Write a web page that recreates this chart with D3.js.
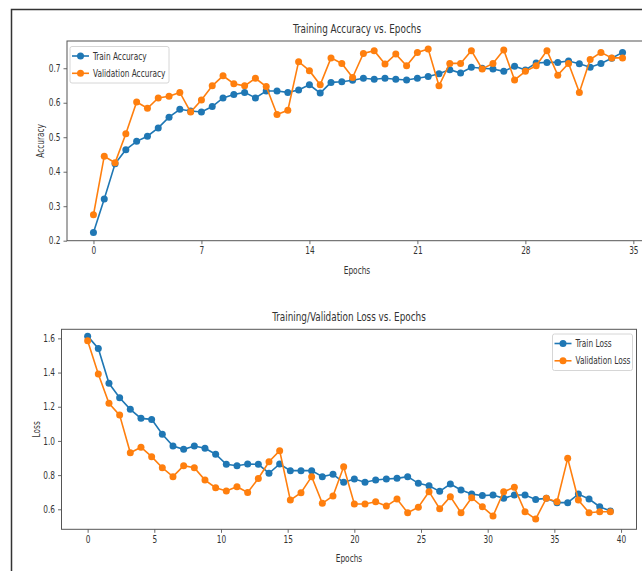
<!DOCTYPE html>
<html>
<head>
<meta charset="utf-8">
<script src="https://cdn.jsdelivr.net/npm/d3@7"></script>
<style>
  body { margin: 0; background: #fff; }
  svg text { font-family: "Liberation Sans Narrow", "DejaVu Sans Condensed", "Liberation Sans", sans-serif; fill: #333; }
</style>
</head>
<body>
<div id="chart"></div>
<script>
// data (50 points each)
var trainAcc = [0.224,0.321,0.423,0.464,0.488,0.503,0.527,0.558,0.581,0.576,
                0.573,0.589,0.614,0.624,0.630,0.614,0.634,0.634,0.630,0.637,
                0.652,0.628,0.659,0.661,0.665,0.671,0.668,0.671,0.668,0.666,
                0.671,0.676,0.684,0.696,0.686,0.703,0.700,0.698,0.691,0.706,
                0.695,0.715,0.717,0.717,0.721,0.713,0.703,0.714,0.729,0.746];
var valAcc = [0.275,0.445,0.426,0.510,0.602,0.584,0.614,0.619,0.630,0.573,
              0.608,0.649,0.678,0.655,0.649,0.671,0.647,0.566,0.578,0.719,
              0.693,0.652,0.730,0.714,0.673,0.743,0.751,0.712,0.741,0.707,
              0.746,0.756,0.649,0.714,0.714,0.751,0.698,0.714,0.753,0.666,
              0.691,0.707,0.751,0.680,0.714,0.630,0.725,0.746,0.730,0.730];
var trainLoss = [1.613,1.541,1.337,1.253,1.185,1.132,1.126,1.039,0.970,0.951,
                 0.970,0.957,0.922,0.863,0.855,0.865,0.863,0.811,0.865,0.826,
                 0.826,0.826,0.791,0.805,0.758,0.777,0.758,0.771,0.777,0.781,
                 0.791,0.752,0.738,0.705,0.748,0.713,0.689,0.680,0.684,0.664,
                 0.684,0.684,0.658,0.664,0.639,0.639,0.689,0.660,0.615,0.590];
var valLoss = [1.586,1.391,1.220,1.151,0.931,0.963,0.908,0.843,0.791,0.855,
               0.843,0.771,0.726,0.707,0.732,0.699,0.780,0.878,0.943,0.654,
               0.697,0.791,0.635,0.678,0.849,0.631,0.631,0.644,0.619,0.660,
               0.580,0.612,0.703,0.603,0.674,0.580,0.668,0.615,0.561,0.703,
               0.729,0.586,0.543,0.664,0.644,0.898,0.654,0.580,0.586,0.586];

var accXTicks = [0, 7, 14, 21, 28, 35];
var accYTicks = [0.2, 0.3, 0.4, 0.5, 0.6, 0.7];
var lossXTicks = [0, 5, 10, 15, 20, 25, 30, 35, 40];
var lossYTicks = [0.6, 0.8, 1.0, 1.2, 1.4, 1.6];

var blue = "#1f77b4", orange = "#ff7f0e";
var squeeze = 0.82; // the source image text is narrower than the fonts here

var svg = d3.select("#chart").append("svg")
    .attr("width", 642)
    .attr("height", 571);

// outer frame of the figure
svg.append("rect")
    .attr("x", 11.5).attr("y", 9.5)
    .attr("width", 640).attr("height", 600)
    .attr("fill", "none")
    .attr("stroke", "#333")
    .attr("stroke-width", 1.5);

function drawPanel(p) {
  var n = p.series[0].values.length;
  var xMax = (n - 1) * p.step;
  var pad = xMax * 0.05;

  var x = d3.scaleLinear().domain([-pad, xMax + pad]).range([p.left, p.right]);
  var y = d3.scaleLinear().domain(p.yDomain).range([p.bottom, p.top]);

  var g = svg.append("g");

  // axes
  g.append("g")
    .attr("transform", "translate(0," + p.bottom + ")")
    .call(d3.axisBottom(x).tickValues(p.xTicks).tickSize(3.5).tickPadding(3).tickFormat(d3.format("d")))
    .call(function(a) { a.select(".domain").remove(); });
  g.append("g")
    .attr("transform", "translate(" + p.left + ",0)")
    .call(d3.axisLeft(y).tickValues(p.yTicks).tickSize(3.5).tickPadding(3).tickFormat(d3.format(".1f")))
    .call(function(a) { a.select(".domain").remove(); });

  g.selectAll(".tick line").attr("stroke", "#444").attr("stroke-width", 0.8);
  g.selectAll(".tick text").attr("font-size", "10px").attr("fill", "#333");

  // spines
  g.append("rect")
    .attr("x", p.left).attr("y", p.top)
    .attr("width", p.right - p.left).attr("height", p.bottom - p.top)
    .attr("fill", "none")
    .attr("stroke", "#555")
    .attr("stroke-width", 1);

  // series
  p.series.forEach(function(s) {
    var pts = s.values.map(function(v, i) { return [x(i * p.step), y(v)]; });
    g.append("path")
      .attr("d", d3.line()(pts))
      .attr("fill", "none")
      .attr("stroke", s.color)
      .attr("stroke-width", 1.6);
    g.selectAll(null)
      .data(pts)
      .enter()
      .append("circle")
      .attr("cx", function(d) { return d[0]; })
      .attr("cy", function(d) { return d[1]; })
      .attr("r", 3.5)
      .attr("fill", s.color);
  });

  // titles
  g.append("text")
    .attr("x", (p.titleX))
    .attr("y", p.top - 8)
    .attr("text-anchor", "middle")
    .attr("font-size", "12px")
    .text(p.title);
  g.append("text")
    .attr("x", p.titleX)
    .attr("y", p.bottom + 33)
    .attr("text-anchor", "middle")
    .attr("font-size", "10px")
    .text("Epochs");
  g.append("text")
    .attr("transform", "translate(" + p.ylabX + "," + ((p.top + p.bottom) / 2) + ") rotate(-90)")
    .attr("text-anchor", "middle")
    .attr("font-size", "10px")
    .text(p.ylabel);

  // legend
  var lg = g.append("g").attr("transform", "translate(" + p.legend[0] + "," + p.legend[1] + ")");
  lg.append("rect")
    .attr("width", p.legendW).attr("height", 36.5)
    .attr("rx", 2)
    .attr("fill", "#fff").attr("fill-opacity", 0.8)
    .attr("stroke", "#ccc").attr("stroke-width", 0.8);
  p.series.forEach(function(s, i) {
    var yy = 9.5 + i * 17.3;
    lg.append("line")
      .attr("x1", 2).attr("x2", 19)
      .attr("y1", yy).attr("y2", yy)
      .attr("stroke", s.color).attr("stroke-width", 1.6);
    lg.append("circle").attr("cx", 10.5).attr("cy", yy).attr("r", 3.5).attr("fill", s.color);
    lg.append("text")
      .attr("x", 23).attr("y", yy + 3.5)
      .attr("font-size", "10px")
      .text(s.name);
  });
}

drawPanel({
  left: 67, right: 649, top: 41, bottom: 240.7,
  step: 0.7, yDomain: [0.2, 0.779],
  xTicks: accXTicks, yTicks: accYTicks,
  title: "Training Accuracy vs. Epochs", titleX: 357, ylabel: "Accuracy", ylabX: 44,
  legend: [70, 46.5], legendW: 99,
  series: [
    { name: "Train Accuracy", values: trainAcc, color: blue },
    { name: "Validation Accuracy", values: valAcc, color: orange }
  ]
});

drawPanel({
  left: 61.5, right: 636.5, top: 329.3, bottom: 529.3,
  step: 0.8, yDomain: [0.483, 1.653],
  xTicks: lossXTicks, yTicks: lossYTicks,
  title: "Training/Validation Loss vs. Epochs", titleX: 349, ylabel: "Loss", ylabX: 40,
  legend: [552.5, 334], legendW: 80,
  series: [
    { name: "Train Loss", values: trainLoss, color: blue },
    { name: "Validation Loss", values: valLoss, color: orange }
  ]
});

// narrow every label to match the condensed look of the source
svg.selectAll("text").each(function() {
  var len = this.getComputedTextLength();
  if (len > 0) {
    d3.select(this)
      .attr("textLength", len * squeeze)
      .attr("lengthAdjust", "spacingAndGlyphs");
  }
});
</script>
</body>
</html>
